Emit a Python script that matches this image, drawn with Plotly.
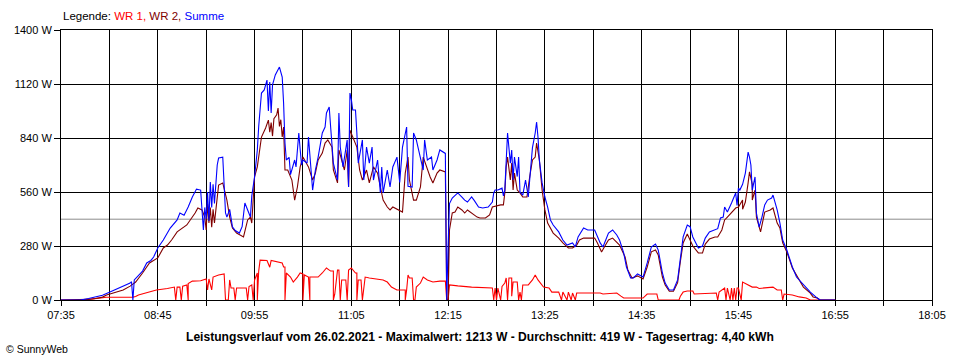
import plotly.graph_objects as go

DAY = "2021-02-26"

# ---- data: (time, watts) ----
WR1 = [("07:35",0),("07:50",0),("07:58",6),("08:08",14),("08:27",15),("08:29",18),("08:31",26),("08:44",52),("08:52",60),
       ("08:57",67),("08:58",0),("08:59",67),("09:01",67),("09:02",0),("09:03",72),("09:06",78),("09:07",0),("09:07",85),
       ("09:10",98),("09:16",100),("09:20",109),("09:21",52),("09:22",109),("09:24",52),("09:25",119),("09:29",130),
       ("09:33",135),("09:34",0),("09:36",0),("09:37",104),("09:38",62),("09:40",62),("09:41",0),("09:42",62),("09:49",62),
       ("09:50",0),("09:51",70),("09:53",78),("09:54",0),("09:55",104),("09:57",140),("09:57",0),("09:58",150),("09:59",207),
       ("10:04",205),("10:06",170),("10:07",205),("10:10",200),("10:13",197),("10:15",192),("10:16",171),("10:17",171),
       ("10:17",0),("10:18",140),("10:21",119),("10:23",93),("10:26",119),("10:28",140),("10:30",135),("10:30",0),
       ("10:31",130),("10:34",119),("10:35",0),("10:35",119),("10:39",119),("10:41",119),("10:44",140),("10:47",166),
       ("10:50",150),("10:52",150),("10:52",0),("10:53",30),("10:55",155),("10:56",155),("10:57",0),("10:58",104),
       ("11:01",104),("11:02",0),("11:03",155),("11:05",166),("11:08",140),("11:09",140),("11:09",0),("11:10",104),
       ("11:12",104),("11:13",0),("11:15",119),("11:18",114),("11:28",104),("11:31",93),("11:34",67),("11:38",52),
       ("11:44",52),("11:44",0),("11:45",52),("11:46",130),("11:47",114),("11:49",114),("11:50",0),("11:51",0),("11:52",67),
       ("11:55",88),("11:57",119),("12:00",104),("12:04",93),("12:09",98),("12:13",98),("12:14",0),("12:15",0),("12:16",78),
       ("12:22",73),("12:32",67),("12:47",62),("12:48",0),("12:49",62),("12:50",0),("12:51",62),("12:53",0),("12:54",70),
       ("12:56",88),("12:57",114),("12:58",0),("12:59",114),("13:01",114),("13:01",20),("13:02",93),("13:05",93),
       ("13:06",0),("13:07",41),("13:08",0),("13:09",78),("13:13",78),("13:16",104),("13:18",130),("13:20",104),
       ("13:24",67),("13:28",62),("13:30",41),("13:35",41),("13:37",0),("13:38",41),("13:41",0),("13:42",41),("13:44",0),
       ("13:45",36),("13:47",0),("13:48",36),("14:05",36),("14:07",31),("14:17",36),("14:20",20),("14:22",10),("14:36",10),
       ("14:39",31),("14:46",31),("14:47",0),("15:02",0),("15:03",20),("15:05",41),("15:08",47),("15:12",47),("15:13",31),
       ("15:29",36),("15:30",0),("15:31",41),("15:35",62),("15:36",0),("15:37",62),("15:39",0),("15:40",62),("15:41",0),
       ("15:42",62),("15:43",0),("15:44",62),("15:45",62),("15:47",0),("15:48",93),("15:52",78),("15:55",67),("15:58",67),
       ("16:00",60),("16:10",67),("16:13",52),("16:16",52),("16:17",0),("16:18",31),("16:24",26),("16:29",16),("16:34",10),
       ("16:37",0),("16:55",0)]

WR2 = [("07:35",0),("07:49",0),("07:55",3),("08:00",8),("08:05",15),("08:08",26),("08:15",40),("08:20",52),("08:25",72),
       ("08:27",83),("08:29",93),("08:34",140),("08:39",192),("08:45",218),("08:49",270),("08:52",285),("08:55",311),
       ("08:59",353),("09:06",389),("09:12",451),("09:14",477),("09:17",467),("09:19",430),("09:20",363),("09:21",500),
       ("09:22",400),("09:23",480),("09:24",378),("09:25",470),("09:26",400),("09:29",596),("09:32",607),("09:35",518),
       ("09:37",430),("09:39",373),("09:42",347),("09:47",327),("09:50",415),("09:52",430),("09:53",399),("09:55",638),
       ("09:57",690),("10:00",845),("10:03",892),("10:05",933),("10:06",870),("10:07",920),("10:08",850),("10:09",940),
       ("10:11",960),("10:12",995),("10:13",900),("10:14",935),("10:15",845),("10:16",897),("10:17",674),("10:19",674),
       ("10:22",622),("10:23",555),("10:24",518),("10:26",586),("10:28",690),("10:30",741),("10:34",690),("10:37",622),
       ("10:39",658),("10:41",726),("10:44",762),("10:46",814),("10:48",830),("10:51",793),("10:52",674),("10:55",607),
       ("10:56",778),("10:58",726),("11:00",674),("11:02",778),("11:03",586),("11:04",881),("11:06",845),("11:09",793),
       ("11:11",674),("11:13",622),("11:16",674),("11:18",607),("11:21",690),("11:24",658),("11:26",586),("11:28",518),
       ("11:31",482),("11:33",467),("11:35",482),("11:39",467),("11:42",456),("11:44",658),("11:46",741),("11:47",622),
       ("11:50",518),("11:52",518),("11:55",586),("11:57",741),("12:00",674),("12:02",638),("12:04",607),("12:07",658),
       ("12:09",674),("12:13",664),("12:14",0),("12:15",0),("12:16",363),("12:18",451),("12:20",456),("12:22",482),
       ("12:25",467),("12:27",451),("12:29",467),("12:32",451),("12:36",430),("12:38",425),("12:42",425),("12:45",441),
       ("12:47",482),("12:53",493),("12:55",493),("12:56",555),("12:57",690),("12:58",741),("13:00",622),("13:01",710),
       ("13:02",570),("13:03",658),("13:05",570),("13:07",555),("13:09",534),("13:12",534),("13:13",600),("13:14",638),
       ("13:16",726),("13:18",741),("13:19",814),("13:21",726),("13:23",570),("13:25",467),("13:27",399),("13:31",347),
       ("13:35",321),("13:38",296),("13:42",270),("13:45",270),("13:48",285),("13:50",311),("13:53",321),("14:01",321),
       ("14:03",296),("14:06",249),("14:08",275),("14:11",311),("14:14",321),("14:17",296),("14:19",285),("14:23",223),
       ("14:25",156),("14:28",114),("14:32",125),("14:36",109),("14:39",171),("14:42",250),("14:45",259),("14:47",233),
       ("14:50",119),("14:52",78),("14:55",45),("14:58",45),("15:01",90),("15:03",200),("15:05",296),("15:08",342),
       ("15:12",280),("15:16",244),("15:19",244),("15:21",290),("15:24",316),("15:28",327),("15:30",327),("15:33",363),
       ("15:35",415),("15:37",430),("15:40",451),("15:43",477),("15:45",482),("15:48",518),("15:48",470),("15:50",508),
       ("15:52",607),("15:53",664),("15:55",600),("15:55",518),("15:57",570),("15:58",430),("16:01",353),("16:02",389),
       ("16:04",456),("16:08",467),("16:10",477),("16:13",399),("16:15",373),("16:17",296),("16:20",249),("16:24",166),
       ("16:27",130),("16:32",67),("16:37",36),("16:39",16),("16:42",10),("16:44",0),("16:55",0)]

SUMME = [("07:35",0),("07:49",0),("07:55",8),("08:00",15),("08:05",25),("08:10",40),("08:15",55),("08:20",70),("08:25",88),
         ("08:26",95),("08:27",0),("08:28",104),("08:31",125),("08:34",150),("08:37",192),("08:40",205),("08:42",223),
         ("08:45",270),("08:49",311),("08:54",373),("08:59",415),("09:01",451),("09:04",440),("09:07",482),("09:10",534),
         ("09:13",575),("09:16",570),("09:17",470),("09:18",363),("09:19",480),("09:20",420),("09:21",560),("09:22",410),
         ("09:23",612),("09:24",480),("09:25",600),("09:26",500),("09:28",700),("09:29",736),("09:32",741),("09:33",600),
         ("09:34",451),("09:35",430),("09:37",470),("09:39",380),("09:41",360),("09:44",347),("09:46",380),("09:48",503),
         ("09:50",470),("09:52",430),("09:53",540),("09:55",638),("09:57",778),("09:58",900),("10:00",1073),("10:02",1089),
         ("10:04",1140),("10:05",980),("10:06",1130),("10:07",970),("10:08",1115),("10:10",1167),("10:13",1208),
         ("10:15",1156),("10:16",1021),("10:17",814),("10:18",726),("10:20",740),("10:21",650),("10:22",674),("10:24",726),
         ("10:25",690),("10:27",866),("10:28",780),("10:29",700),("10:30",726),("10:33",710),("10:34",845),("10:36",650),
         ("10:37",570),("10:39",674),("10:41",741),("10:44",866),("10:46",897),("10:47",970),("10:49",1001),("10:50",900),
         ("10:52",710),("10:55",622),("10:56",970),("10:57",793),("10:59",690),("11:02",830),("11:03",586),("11:04",1073),
         ("11:05",1040),("11:06",985),("11:08",985),("11:09",866),("11:10",710),("11:13",830),("11:14",622),("11:16",793),
         ("11:18",710),("11:20",793),("11:21",622),("11:24",726),("11:26",555),("11:27",690),("11:28",555),("11:31",674),
         ("11:33",586),("11:35",690),("11:38",741),("11:40",610),("11:42",793),("11:45",897),("11:46",590),("11:49",586),
         ("11:50",866),("11:52",830),("11:55",741),("11:57",674),("11:58",830),("12:00",726),("12:03",741),("12:04",674),
         ("12:07",726),("12:09",778),("12:13",760),("12:14",0),("12:15",280),("12:16",500),("12:18",529),("12:22",555),
         ("12:25",534),("12:27",518),("12:29",508),("12:32",534),("12:34",515),("12:37",482),("12:40",477),("12:44",482),
         ("12:47",508),("12:48",555),("12:49",570),("12:51",570),("12:54",580),("12:55",540),("12:56",570),("12:58",866),
         ("13:00",710),("13:01",778),("13:02",622),("13:03",741),("13:05",640),("13:06",741),("13:07",560),("13:09",544),
         ("13:11",622),("13:13",534),("13:14",622),("13:16",790),("13:18",866),("13:19",923),("13:20",845),("13:21",726),
         ("13:23",607),("13:25",534),("13:27",482),("13:29",415),("13:31",389),("13:35",353),("13:38",311),("13:41",285),
         ("13:45",296),("13:47",275),("13:49",327),("13:53",373),("13:56",363),("14:01",363),("14:05",296),("14:07",275),
         ("14:11",347),("14:14",363),("14:17",337),("14:19",311),("14:22",244),("14:24",171),("14:27",114),("14:29",114),
         ("14:32",135),("14:36",119),("14:39",192),("14:42",275),("14:45",290),("14:47",259),("14:50",140),("14:52",88),
         ("14:55",52),("14:58",52),("15:01",104),("15:03",223),("15:05",327),("15:08",389),("15:10",380),("15:12",327),
         ("15:16",270),("15:19",280),("15:21",321),("15:24",353),("15:28",363),("15:30",370),("15:32",425),("15:34",430),
         ("15:35",482),("15:37",456),("15:40",503),("15:43",555),("15:44",490),("15:45",580),("15:46",570),("15:48",600),
         ("15:50",658),("15:52",767),("15:53",741),("15:54",700),("15:55",570),("15:57",638),("15:58",451),("16:00",378),
         ("16:02",430),("16:04",493),("16:06",518),("16:09",529),("16:10",544),("16:13",467),("16:15",399),("16:17",311),
         ("16:20",259),("16:24",171),("16:27",119),("16:32",78),("16:37",41),("16:42",10),("16:44",0),("16:55",0)]

AVERAGE_W = 419
Y_TICKS = [0, 280, 560, 840, 1120, 1400]
X_TICKS = ["07:35","08:10","08:45","09:20","09:55","10:30","11:05","11:40","12:15","12:50",
           "13:25","14:00","14:35","15:10","15:45","16:20","16:55","17:30","18:05"]
X_LABELS = [t if i % 2 == 0 else "" for i, t in enumerate(X_TICKS)]

TITLE = "Leistungsverlauf vom 26.02.2021 - Maximalwert: 1213 W - Durchschnitt: 419 W - Tagesertrag: 4,40 kWh"

FONT = "Liberation Sans, Arial, sans-serif"


def ts(hm):
    return f"{DAY} {hm}"


fig = go.Figure()
for name, series, color in [("WR 1", WR1, "#ff0000"), ("WR 2", WR2, "#800000"), ("Summe", SUMME, "#0000ff")]:
    fig.add_trace(go.Scatter(
        x=[ts(t) for t, _ in series], y=[v for _, v in series],
        mode="lines", name=name, line=dict(color=color, width=1.1), showlegend=False))

fig.add_shape(type="line", xref="paper", x0=0, x1=1, yref="y", y0=AVERAGE_W, y1=AVERAGE_W,
              line=dict(color="#8c8c8c", width=1), layer="below")

fig.update_xaxes(
    type="date", range=[ts("07:35"), ts("18:05")],
    tickmode="array", tickvals=[ts(t) for t in X_TICKS], ticktext=X_LABELS,
    showgrid=True, gridcolor="black", gridwidth=1,
    showline=True, linecolor="black", linewidth=1, mirror=True,
    ticks="outside", ticklen=5, tickcolor="black", tickwidth=1,
    tickfont=dict(family=FONT, size=11, color="black"), zeroline=False)
fig.update_yaxes(
    range=[0, 1400], tickmode="array", tickvals=Y_TICKS, ticktext=[f"{v} W" for v in Y_TICKS],
    showgrid=True, gridcolor="black", gridwidth=1,
    showline=True, linecolor="black", linewidth=1, mirror=True,
    ticks="outside", ticklen=6, tickcolor="black", tickwidth=1,
    tickfont=dict(family=FONT, size=11, color="black"), zeroline=False)

fig.add_annotation(
    xref="paper", yref="paper", x=0, y=1, yshift=14, xanchor="left", yanchor="middle", showarrow=False,
    text="Legende: <span style='color:#ff0000'>WR 1,</span> <span style='color:#800000'>WR 2,</span> "
         "<span style='color:#0000ff'>Summe</span>",
    font=dict(family=FONT, size=11.5, color="black"))
fig.add_annotation(
    xref="paper", yref="paper", x=(479.5 - 61) / 871, y=0, yshift=-37, xanchor="center", yanchor="middle",
    showarrow=False, text=f"<b>{TITLE}</b>", font=dict(family=FONT, size=12.1, color="black"))
fig.add_annotation(
    xref="paper", yref="paper", x=-57 / 871, y=0, yshift=-49, xanchor="left", yanchor="middle",
    showarrow=False, text="© SunnyWeb", font=dict(family=FONT, size=10.5, color="black"))

fig.update_layout(
    width=960, height=360, margin=dict(l=61, r=28, t=30, b=60),
    paper_bgcolor="white", plot_bgcolor="white", showlegend=False,
    font=dict(family=FONT, color="black"))

fig.write_html("out.html", config={"displayModeBar": False},
               post_script="document.body.style.margin='0';document.body.style.overflow='hidden';")
